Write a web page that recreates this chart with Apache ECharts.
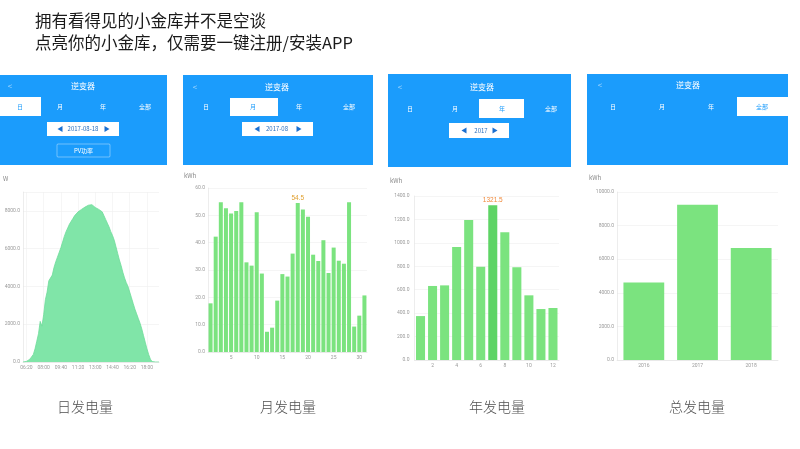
<!DOCTYPE html>
<html><head><meta charset="utf-8">
<script src="https://cdn.jsdelivr.net/npm/echarts@6/dist/echarts.min.js"></script>
<style>html,body{margin:0;padding:0;background:#fff}#c{width:800px;height:449px}</style>
</head><body><div id="c"></div>
<script>
// ---------- data ----------
const dayTimes = ['06:00','06:10','06:20','06:30','06:40','06:50','07:00','07:10','07:20','07:30','07:40','07:50',
'08:00','08:10','08:20','08:30','08:40','08:50','09:00','09:10','09:20','09:30','09:40','09:50',
'10:00','10:10','10:20','10:30','10:40','10:50','11:00','11:10','11:20','11:30','11:40','11:50',
'12:00','12:10','12:20','12:30','12:40','12:50','13:00','13:10','13:20','13:30','13:40','13:50',
'14:00','14:10','14:20','14:30','14:40','14:50','15:00','15:10','15:20','15:30','15:40','15:50',
'16:00','16:10','16:20','16:30','16:40','16:50','17:00','17:10','17:20','17:30','17:40','17:50',
'18:00','18:10','18:20','18:30','18:40','18:50','19:00','19:10'];
const dayPower = [0,0,30,80,150,250,400,700,1100,1500,2150,1900,
2500,3300,3700,4300,4250,4600,5000,5300,5550,5800,6050,6350,
6650,6900,7100,7300,7450,7600,7750,7850,7950,8000,8080,8150,
8200,8250,8300,8370,8330,8250,8180,8130,8080,8030,7950,7750,
7550,7350,7150,6900,6700,6450,6100,5750,5400,5100,4750,4450,
4200,4000,3700,3400,3100,2800,2550,2300,2050,1750,1400,1050,
700,400,150,20,0,0,0,0];

const monthDays = ['1','2','3','4','5','6','7','8','9','10','11','12','13','14','15','16','17','18','19','20','21','22','23','24','25','26','27','28','29','30','31'];
const monthEnergy = [17.8,42.2,54.8,52.6,50.7,51.6,54.8,32.8,31.6,51.1,28.7,7.4,8.9,18.8,28.5,27.6,36.0,54.5,52.1,49.5,35.6,33.3,40.9,28.9,38.2,33.4,32.3,54.8,9.3,13.3,20.7];
const monthHighlight = 17;

const yearMonths = ['1','2','3','4','5','6','7','8','9','10','11','12'];
const yearEnergy = [375,632,637,964,1195,797,1321.5,1090,791,552,435,444];
const yearHighlight = 6;

const totalYears = ['2016','2017','2018'];
const totalEnergy = [4614,9248,6673];

const headline1 = '拥有看得见的小金库并不是空谈';
const headline2 = '点亮你的小金库，仅需要一键注册/安装APP';
const captions = ['日发电量','月发电量','年发电量','总发电量'];
const tabNames = ['日','月','年','全部'];

// ---------- styles ----------
const BLUE = '#1b9cfc';
const GREEN = '#7be37f';
const GREEN_DARK = '#5ed465';
const AREA = '#80e5a8';
const CJK = '"Noto Sans CJK SC","Noto Sans",sans-serif';
const tiny = {fontSize:5, color:'#9a9a9a', fontFamily:'Roboto,sans-serif'};
const splitH = {show:true, lineStyle:{color:'#eeeeee', width:0.6}};
const axisL = {show:true, lineStyle:{color:'#e0e0e0', width:0.6}};

function yAx(gi, max, interval, margin){
  return {type:'value', gridIndex:gi, min:0, max:max, interval:interval,
    axisLine:axisL, axisTick:{show:false}, splitLine:splitH,
    axisLabel:Object.assign({margin:margin, showMaxLabel: max % interval === 0, formatter:v=>v.toFixed(1)}, tiny)};
}

// ---------- header graphics ----------
const graphics = [];
function txt(x,y,s,size,color,align,weight){
  graphics.push({type:'text', x:x, y:y, style:{text:s, fontSize:size, fill:color, fontFamily:CJK,
    fontWeight:weight||'normal', textAlign:align||'center', textVerticalAlign:'middle'}});
}
function rect(x1,y1,x2,y2,fill,stroke){
  graphics.push({type:'rect', shape:{x:x1,y:y1,width:x2-x1,height:y2-y1, r:stroke?1:0},
    style:{fill:fill, stroke:stroke||null, lineWidth:stroke?0.7:0}});
}
function tri(cx,cy,dir){
  const p = dir<0 ? [[cx+2.5,cy-3],[cx+2.5,cy+3],[cx-2.5,cy]] : [[cx-2.5,cy-3],[cx-2.5,cy+3],[cx+2.5,cy]];
  graphics.push({type:'polygon', shape:{points:p}, style:{fill:'#1a6fd0'}});
}
function panel(p){
  rect(p.box[0],p.box[1],p.box[2],p.box[3],BLUE);
  txt(p.back, p.title[1], '<', 8, 'rgba(255,255,255,0.6)');
  txt(p.title[0], p.title[1], '逆变器', 8, '#ffffff');
  rect(p.white[0], p.tabY[0], p.white[1], p.tabY[1], '#ffffff');
  const cy = (p.tabY[0]+p.tabY[1])/2;
  for(let i=0;i<4;i++){
    txt(p.tabX[i], cy, tabNames[i], 6, i===p.active ? '#1b9cfc' : '#ffffff');
  }
  if(p.date){
    const d=p.date; rect(d.r[0],d.r[1],d.r[2],d.r[3],'#ffffff');
    const dy=(d.r[1]+d.r[3])/2;
    tri(d.l, dy, -1); tri(d.rr, dy, 1);
    txt(d.t, dy, d.s, 6, '#2a6fbf');
  }
}
panel({box:[0,75,167,165], back:10, title:[83,86], tabY:[97,116], white:[0,41], active:0,
  tabX:[20,60,103,145], date:{r:[47,122,119,136], l:60, rr:107, t:83, s:'2017-08-18'}});
rect(57,144,110,157,'rgba(0,0,0,0)','rgba(255,255,255,0.55)');
txt(83.5,150.5,'PV功率',6,'#ffffff');
panel({box:[183,75,373,165], back:195, title:[277,87], tabY:[98,116], white:[230,278], active:1,
  tabX:[206,253,299,349], date:{r:[242,122,313,136], l:257, rr:299, t:277, s:'2017-08'}});
panel({box:[388,74,571,167], back:400, title:[482,87], tabY:[99,118], white:[479,524], active:2,
  tabX:[410,455,502,551], date:{r:[449,123,509,138], l:464, rr:495, t:481, s:'2017'}});
panel({box:[587,74,788,165], back:600, title:[688,85], tabY:[97,116], white:[737,788], active:3,
  tabX:[613,662,711,762]});

// headline
txt(35, 21, headline1, 16.5, '#1a1a1a', 'left');
txt(35, 43, headline2, 16.5, '#1a1a1a', 'left');
// captions
[[85,407],[288,407],[497,407],[697,407]].forEach((p,i)=>txt(p[0],p[1],captions[i],14,'#505050','center',300));
// units
txt(3,179,'W',6,'#888','left');
txt(184,176,'kWh',6,'#888','left');
txt(390,181,'kWh',6,'#888','left');
txt(589,178,'kWh',6,'#888','left');

// ---------- chart ----------
const chart = echarts.init(document.getElementById('c'), null, {renderer:'canvas'});
const monthData = monthEnergy.map((v,i)=> i===monthHighlight ?
  {value:v, label:{show:true, position:'top', distance:1, color:'#e0a030', fontSize:6.5, formatter:'{c}'}} : v);
const yearData = yearEnergy.map((v,i)=> i===yearHighlight ?
  {value:v, itemStyle:{color:GREEN_DARK}, label:{show:true, position:'top', distance:1, color:'#f08a3c', fontSize:6.5, formatter:'{c}'}} : v);

chart.setOption({
  animation:false,
  graphic: graphics,
  grid:[
    {left:23, top:192, width:136, height:170},
    {left:208, top:188, width:159, height:164},
    {left:414.5, top:196, width:144.5, height:164},
    {left:617, top:192, width:161, height:168}
  ],
  xAxis:[
    {type:'category', gridIndex:0, data:dayTimes, boundaryGap:false, axisLine:axisL, axisTick:{show:false},
      axisLabel:Object.assign({margin:3, interval:(i)=> i>=2 && (i-2)%10===0}, tiny),
      splitLine:{show:true, interval:(i)=> i>=2 && (i-2)%10===0, lineStyle:{color:'#f0f0f0', width:0.6}}},
    {type:'category', gridIndex:1, data:monthDays, axisLine:axisL, axisTick:{show:false},
      axisLabel:Object.assign({margin:3, interval:(i)=> (i+1)%5===0}, tiny),
      splitLine:{show:false}},
    {type:'category', gridIndex:2, data:yearMonths, axisLine:axisL, axisTick:{show:false},
      axisLabel:Object.assign({margin:3, interval:(i)=> (i+1)%2===0}, tiny),
      splitLine:{show:false}},
    {type:'category', gridIndex:3, data:totalYears, axisLine:axisL, axisTick:{show:false},
      axisLabel:Object.assign({margin:3}, tiny), splitLine:{show:false}}
  ],
  yAxis:[ yAx(0,9000,2000,3), yAx(1,60,10,3), yAx(2,1400,200,5), yAx(3,10000,2000,3) ],
  series:[
    {type:'line', xAxisIndex:0, yAxisIndex:0, data:dayPower, symbol:'none', smooth:false,
      lineStyle:{color:'#6fdc9a', width:0.8}, areaStyle:{color:AREA, opacity:1}},
    {type:'bar', xAxisIndex:1, yAxisIndex:1, data:monthData, barWidth:'78%', itemStyle:{color:GREEN}},
    {type:'bar', xAxisIndex:2, yAxisIndex:2, data:yearData, barWidth:'75%', itemStyle:{color:GREEN}},
    {type:'bar', xAxisIndex:3, yAxisIndex:3, data:totalEnergy, barWidth:'76%', itemStyle:{color:GREEN}}
  ]
});
</script></body></html>
